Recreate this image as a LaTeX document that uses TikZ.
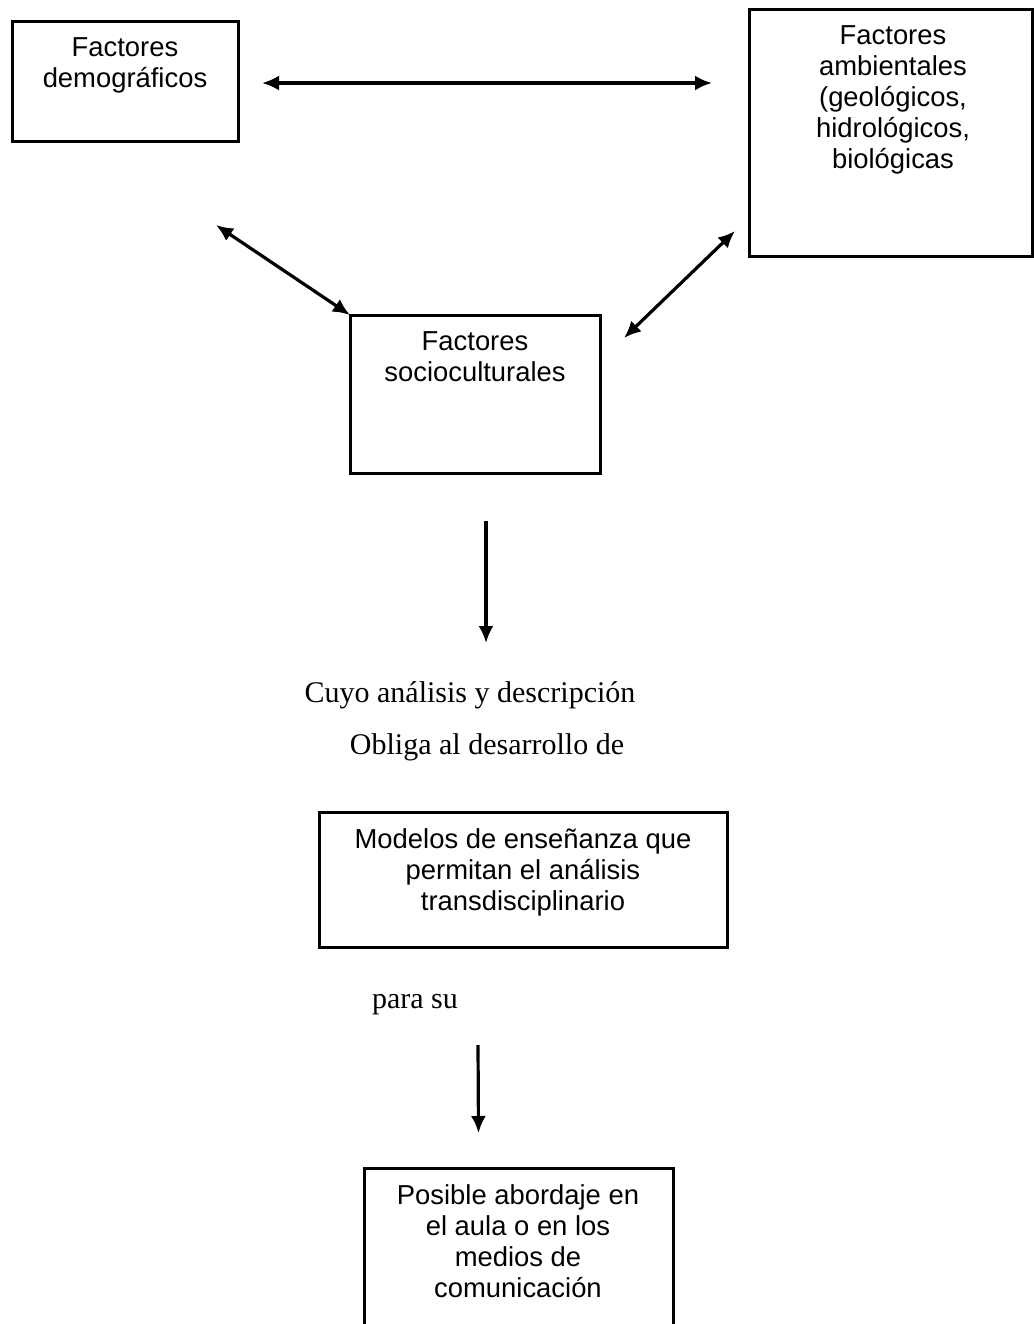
\documentclass[tikz,border=0pt]{standalone}
\usepackage{fontspec}
\setmainfont{Liberation Serif}
\newfontfamily\boxfont{Liberation Sans}
\usetikzlibrary{arrows.meta,calc}
\tikzset{
  box/.style={draw, line width=1.5pt, inner sep=0pt, outer sep=0pt},
  boxtext/.style={anchor=north, inner sep=0pt, align=center, font=\boxfont\fontsize{13.7pt}{15.5pt}\selectfont},
  serif/.style={inner sep=0pt, font=\fontsize{15pt}{18pt}\selectfont},
  tip/.tip={Latex[length=8.5pt,width=7.5pt]},
  dbl/.style={tip-tip, line width=1.6pt},
  single/.style={-tip, line width=1.6pt}
}
\begin{document}
\begin{tikzpicture}[x=0.5pt,y=-0.5pt]
\useasboundingbox (0,0) rectangle (1034,1324);
\clip (0,0) rectangle (1034,1324);
% boxes
\node[box, minimum width=113pt, minimum height=60pt] (demo) at (125,81) {};
\node[box, minimum width=141.5pt, minimum height=123.5pt] (amb) at (890.5,132.5) {};
\node[box, minimum width=125pt, minimum height=79pt] (socio) at (475,394) {};
\node[box, minimum width=204pt, minimum height=67.5pt] (mod) at (523,879.5) {};
\node[box, minimum width=154.5pt, minimum height=88.5pt] (pos) at (518.5,1256.5) {};
% box texts
\node[boxtext] (demoT) at (125,37) {Factores\\demográficos};
\node[boxtext] (ambT) at (893,25) {Factores\\ambientales\\(geológicos,\\hidrológicos,\\biológicas};
\node[boxtext] (socioT) at (475,331) {Factores\\socioculturales};
\node[boxtext] (modT) at (523,828) {Modelos de enseñanza que\\permitan el análisis\\transdisciplinario};
\node[boxtext] (posT) at (518,1184) {Posible abordaje en\\el aula o en los\\medios de\\comunicación};
% serif labels
\node[serif] (cuyo) at (470,695) {Cuyo análisis y descripción};
\node[serif] (obliga) at (487,747) {Obliga al desarrollo de};
\node[serif] (para) at (415,1005) {para su};
% connectors
\coordinate (h1) at ($(demo.east)+(24,2)$);
\draw[dbl] (h1) -- (h1 -| amb.west) [shorten >=18.5pt];
\draw[dbl] ($(demo.south east)+(-22,84)$) -- (socio.north west);
\draw[dbl] ($(amb.south west)+(-14,-25)$) -- ($(socio.north east)+(24,23)$);
\draw[single] ($(socio.south)+(11,48)$) -- ($(socio.south)+(11,170)$);
\draw[single] ($(mod.south)+(-45,98)$) -- ($(pos.north)+(-40,-35)$);
\end{tikzpicture}
\end{document}
